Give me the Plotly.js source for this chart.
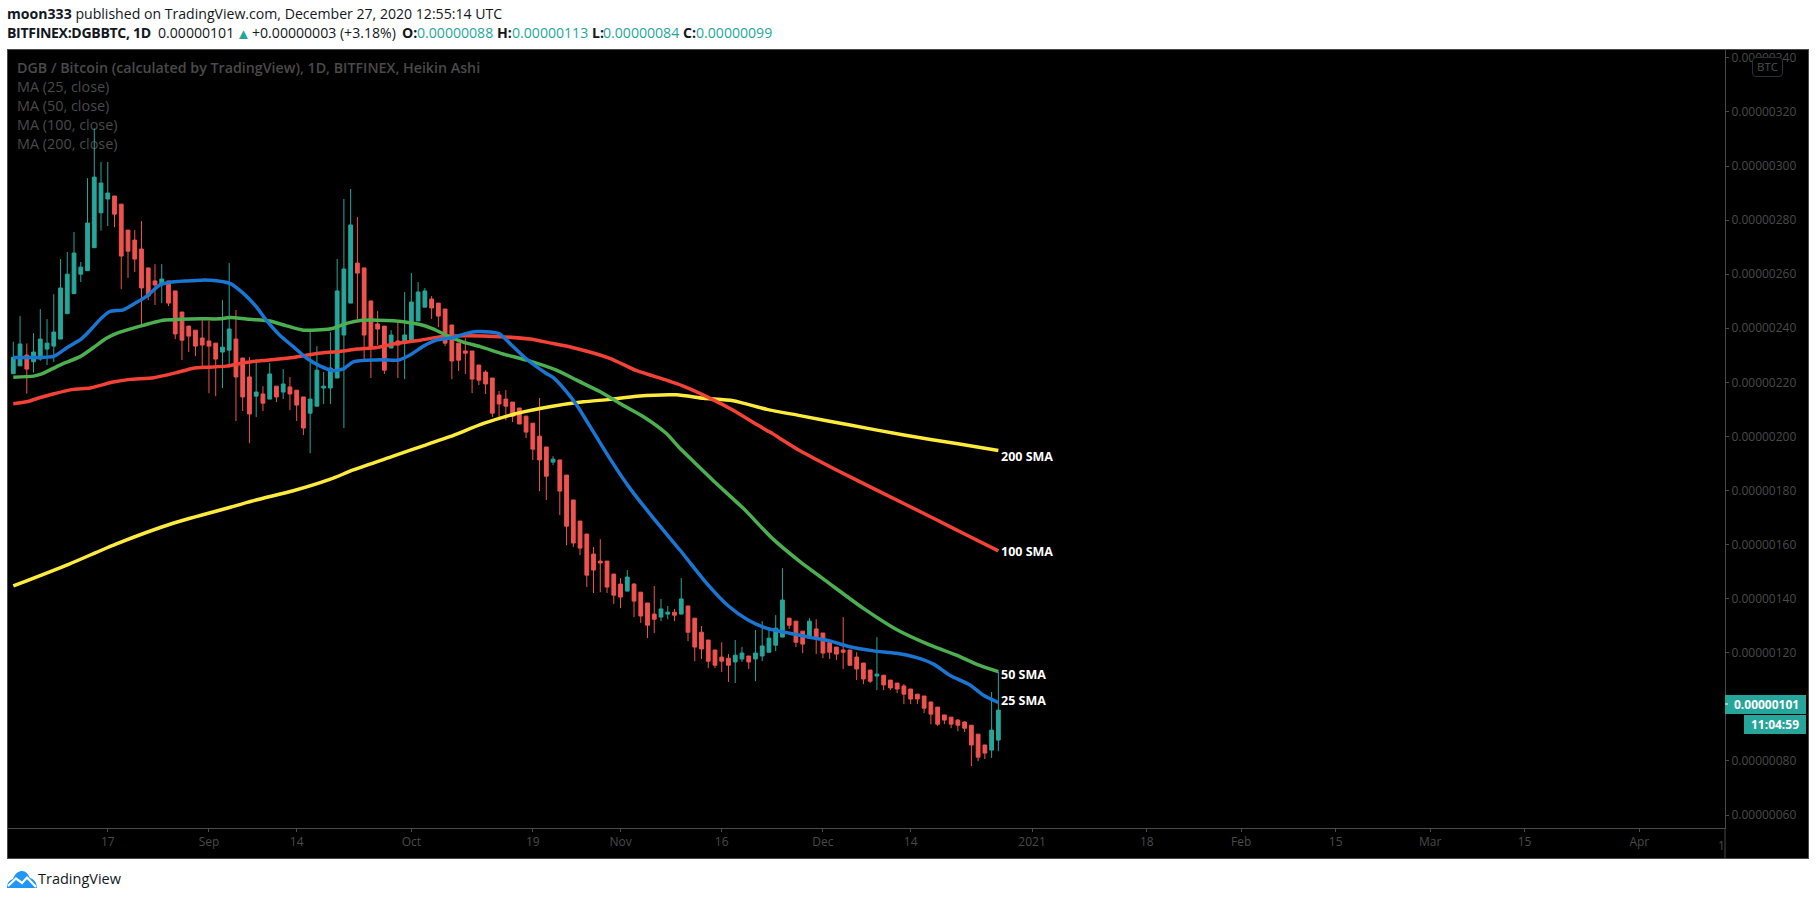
<!DOCTYPE html>
<html>
<head>
<meta charset="utf-8">
<script src="https://cdn.plot.ly/plotly-3.0.1.min.js"></script>
<style>
html,body{margin:0;padding:0;background:#fff;width:1816px;height:900px;overflow:hidden;font-family:"Open Sans",sans-serif;}
.t{position:absolute;white-space:nowrap;font-size:14.1px;line-height:18px;color:#131722;}
.b{font-weight:700;}
.g{color:#26a69a;}
#frame{position:absolute;left:7px;top:49px;width:1802px;height:810px;box-sizing:border-box;border:1px solid #4a4a4a;background:#000;}
#chart{position:absolute;left:0;top:0;width:1800px;height:808px;}
.lg{position:absolute;left:9px;color:#4a4a4a;font-size:14.4px;line-height:18px;white-space:nowrap;}
#btc{position:absolute;left:1744px;top:7px;width:31px;height:20px;box-sizing:border-box;border:1px solid #2a2e39;border-radius:4px;background:#000;color:#4f4f4f;font-size:11.5px;line-height:18px;text-align:center;}
</style>
</head>
<body>
<div class="t" style="left:7px;top:5px;"><span class="b">moon333</span> published on TradingView.com, December 27, 2020 12:55:14 UTC</div>
<div class="t b" style="left:7px;top:24px;letter-spacing:-0.35px;">BITFINEX:DGBBTC, 1D</div>
<div class="t" style="left:158px;top:24px;">0.00000101</div>
<div class="t g" style="left:236px;top:24px;font-size:15px;">▲</div>
<div class="t" style="left:252px;top:24px;">+0.00000003 (+3.18%)</div>
<div class="t b" style="left:402px;top:24px;">O:</div><div class="t g" style="left:417px;top:24px;">0.00000088</div>
<div class="t b" style="left:497px;top:24px;">H:</div><div class="t g" style="left:512px;top:24px;">0.00000113</div>
<div class="t b" style="left:592px;top:24px;">L:</div><div class="t g" style="left:603px;top:24px;">0.00000084</div>
<div class="t b" style="left:683px;top:24px;">C:</div><div class="t g" style="left:696px;top:24px;">0.00000099</div>

<div id="frame">
  <div class="lg" style="top:9px;font-weight:600;font-size:14.25px;">DGB / Bitcoin (calculated by TradingView), 1D, BITFINEX, Heikin Ashi</div>
  <div class="lg" style="top:28px;">MA (25, close)</div>
  <div class="lg" style="top:47px;">MA (50, close)</div>
  <div class="lg" style="top:66px;">MA (100, close)</div>
  <div class="lg" style="top:85px;">MA (200, close)</div>
  <div id="chart"></div>
  <div id="btc">BTC</div>
</div>

<svg style="position:absolute;left:7px;top:871px;" width="30" height="18" viewBox="0 0 30 18">
  <path d="M0 17 C0 11 3 9 6 8 C8 2 12 0 15 0 C19 0 21 3 23 7 C27 8 30 12 30 17 Z" fill="#2196f3"/>
  <polyline points="1,15 9,7.5 15,12 20,6.5 29,16" fill="none" stroke="#fff" stroke-width="2.2"/>
</svg>
<div class="t" style="left:38px;top:869px;font-size:14.5px;line-height:20px;">TradingView</div>

<script>
// Candle values in units of 0.00000001 BTC, one per day from 2020-08-03
var firstDay = Date.UTC(2020, 7, 3);
var opens = [223.2,226.1,230.1,227.6,228.6,232.3,233.4,236.0,245.4,252.8,
260.0,261.3,269.8,282.7,287.8,288.9,285.9,276.3,272.6,269.3,
262.3,257.5,256.3,257.5,253.8,246.0,240.8,239.3,236.4,235.3,
234.5,231.2,231.9,236.0,229.0,222.0,214.9,215.7,213.8,218.6,
216.4,218.3,217.1,214.6,208.6,211.2,217.9,217.9,221.6,237.5,
249.3,264.1,262.3,250.1,241.6,240.8,232.7,235.3,234.5,235.6,
242.7,247.8,250.8,249.3,247.1,241.2,234.5,231.6,231.6,226.4,
223.8,221.6,215.3,213.8,212.7,210.5,207.5,204.9,200.1,196.1,
190.5,191.3,185.7,176.5,168.7,163.9,156.5,153.9,153.9,149.1,
145.4,142.8,145.4,142.4,138.4,134.3,133.2,134.3,135.0,134.3,
137.3,132.8,127.6,124.7,121.0,118.4,118.0,116.6,117.7,118.8,
117.7,118.8,120.2,122.8,125.8,132.8,131.7,128.0,125.4,128.8,
127.3,123.9,122.1,121.0,121.0,118.4,116.2,113.6,111.4,111.7,
109.9,108.8,107.7,106.6,104.7,104.0,101.8,99.9,97.0,96.2,
95.1,94.4,93.2,89.9,85.9,84.0,87.7];
var closes = [229.2,234.2,224.9,231.2,236.0,234.5,238.6,254.9,260.0,267.8,
262.6,278.9,295.9,293.7,290.0,282.2,266.7,268.5,265.6,254.9,
251.9,256.0,258.2,249.3,237.9,235.6,237.1,233.4,233.8,233.4,
228.6,233.0,239.7,222.0,214.6,208.3,216.4,212.3,223.1,214.6,
219.4,215.7,211.6,203.1,213.8,224.5,218.6,225.3,253.8,261.9,
278.2,260.4,237.5,233.0,239.7,224.5,237.5,233.8,237.5,249.7,
253.4,253.8,247.5,244.5,234.5,227.9,228.2,230.8,221.2,220.8,
219.4,208.6,212.0,211.2,207.5,204.6,201.6,195.3,191.3,185.3,
191.6,179.8,166.8,160.6,158.7,148.7,150.6,153.2,144.3,141.3,
140.6,148.0,139.1,133.6,130.2,132.4,136.2,135.0,133.9,139.9,
127.6,122.1,121.4,116.9,115.4,116.9,115.4,119.1,119.9,116.6,
119.9,122.5,125.4,129.1,139.5,130.2,123.9,123.2,131.7,125.8,
119.9,120.2,119.5,120.2,115.4,114.0,110.3,109.5,112.1,108.1,
107.0,106.6,104.7,102.9,102.9,99.5,97.3,93.6,95.1,93.6,
93.2,92.1,85.9,81.4,82.9,91.4,98.8];
var highs = [235.0,244.5,234.4,238.2,247.1,243.4,252.6,265.6,268.2,275.6,
264.5,295.5,314.0,301.5,301.5,288.9,285.9,276.3,276.3,279.6,
262.3,263.7,263.7,257.5,253.8,246.0,240.8,239.3,243.0,242.7,
234.5,250.4,264.1,246.7,229.0,229.3,228.6,218.6,227.1,218.6,
224.9,222.0,217.1,214.6,239.0,233.4,223.8,238.6,265.6,287.8,
291.5,281.1,262.3,250.1,246.4,240.8,239.3,243.0,253.4,260.4,
257.1,254.9,251.9,249.3,247.1,241.2,234.5,236.3,231.6,226.4,
224.5,221.6,216.8,217.1,212.7,210.5,207.5,204.9,214.2,196.1,
192.7,191.3,185.7,176.5,168.7,163.9,159.1,162.0,153.9,149.1,
147.6,150.6,145.8,142.4,138.4,144.7,139.9,137.3,136.2,147.6,
137.3,132.8,129.9,124.7,121.0,123.9,119.5,124.7,122.1,118.8,
128.4,131.7,129.5,133.9,151.3,132.8,131.7,128.0,132.8,132.4,
127.3,123.9,122.1,133.2,121.0,120.2,116.2,113.6,125.8,111.7,
109.9,108.8,108.4,106.6,104.7,104.0,101.8,99.9,97.0,96.2,
95.5,94.7,93.2,89.9,85.9,105.5,112.9];
var lows = [223.2,226.1,215.8,223.6,228.0,226.4,227.5,236.0,245.4,252.8,
257.1,261.3,269.8,276.1,277.8,277.4,254.5,258.6,260.8,240.4,
250.4,248.6,249.3,248.2,236.0,228.2,231.2,229.7,224.9,216.0,
214.9,217.9,225.6,205.7,209.4,197.5,207.2,209.4,213.8,212.7,
213.8,209.7,205.7,200.5,193.8,211.2,212.0,212.0,221.6,203.1,
249.3,243.4,227.9,221.6,233.8,223.1,232.7,221.6,221.2,235.6,
242.7,247.8,243.4,240.4,233.4,221.2,224.2,223.1,216.0,219.0,
215.7,207.2,207.2,206.0,205.3,204.6,199.4,191.3,179.8,176.5,
189.4,170.9,159.8,159.1,156.1,144.3,142.1,142.4,142.1,138.0,
136.5,142.8,133.2,131.0,125.4,127.3,131.7,132.4,131.7,134.3,
124.3,116.9,117.7,114.3,114.3,112.9,109.2,108.8,116.6,114.0,
109.5,116.9,120.2,120.6,125.8,128.8,122.1,119.9,125.4,119.5,
118.0,117.7,117.3,114.0,115.1,109.9,108.4,108.8,106.2,106.2,
106.2,105.1,101.0,101.0,101.0,97.7,93.6,92.9,93.6,92.1,
91.0,90.7,78.1,79.9,80.7,81.1,83.6];

// Moving averages: day offsets from the first candle and the level read at each
var ma25Days = [0,3,6,8,10,11.4,13,14.3,16.3,17.8,19.8,21.7,23.2,25.7,27.9,30.1,32.1,34.1,36,37.5,39.5,41.5,43.5,45.5,47.4,48.9,50.4,52.4,54.8,57,58.8,60.8,62.7,65.2,67.2,68.7,70.7,72.1,73.6,75.8,79,80,81.8,83.5,85.5,88.4,91.4,94.9,98.8,102.8,106,108.9,111.7,115.1,118.1,121,124,127.5,130.9,133.9,136.4,138.8,141.8,143.8,146];
var ma25 = [229.2,229.2,229.6,232.9,235.9,239.3,243.6,246.2,246.8,248.9,251.9,256.0,257.0,257.5,257.8,257.6,256.6,252.9,248.0,243.0,237.4,233.2,228.9,226.0,224.3,225.0,227.6,228.2,228.4,228.2,230.1,233.4,235.6,236.6,238.1,238.8,238.6,237.9,234.4,229.2,223.3,221.8,217.1,211.6,203.6,191.9,180.8,169.7,158.0,145.6,137.3,132.1,129.0,127.2,125.7,124.4,122.2,120.7,119.8,118.2,115.8,111.7,108.1,104.3,101.6];
var ma50Days = [0,3,4.2,6.9,9.9,11.9,13.8,15.3,18.8,22.2,24.7,27.7,30.6,32.1,35.1,38,40.5,43,46.9,49.4,51.4,53.9,56.3,60.3,62.3,64.2,66.7,69.2,72.6,76.1,80.5,83.5,87,89.9,93.4,96.8,98.8,101,104.2,108.2,112.5,116.6,120.6,126,130.9,135.9,139.8,142.8,146];
var ma50 = [221.9,222.3,223.1,226.4,229.5,232.9,236.3,238.1,240.8,243.0,243.3,243.5,243.5,244.0,243.3,242.7,240.9,239.3,239.7,241.8,242.9,243.0,242.8,241.4,239.7,237.4,234.9,233.2,230.5,228.2,224.5,220.8,216.5,212.2,207.3,201.1,195.6,190.3,182.6,173.4,162.3,153.7,146.3,136.4,128.6,122.8,119.1,115.7,113.0];
var ma100Days = [0,2,4,5.9,8.9,11.4,14.8,17.3,20.8,24.2,26.7,28.7,31.6,34.6,37.5,41.5,45,48.4,50.9,53.9,56.8,60.3,63.7,67.2,72.1,76.6,79.5,83,88.4,92.4,96.8,99.3,103.3,106.7,110.2,112.2,116.6,122,128.5,136.9,141,146];
var ma100 = [212.1,212.8,214.4,215.7,217.4,217.9,220.1,221.1,221.7,223.6,225.2,225.6,226.0,227.4,228.2,229.2,230.7,231.4,232.3,232.9,234.4,235.6,237.0,237.2,236.9,236.0,234.6,232.8,228.9,224.3,220.8,218.6,214.1,209.7,204.4,201.5,194.7,187.6,179.5,169.1,163.9,157.7];
var ma200Days = [0,8.3,15.2,23.8,32.3,36,41.5,46.9,50.4,56.3,61.3,64.7,69.7,74.6,79.5,84.5,88.4,92.4,98.3,102.3,106.7,111.7,116.6,124,132,140,146];
var ma200 = [144.7,152.8,160.2,168.0,173.9,176.5,179.9,184.1,187.6,192.7,197.0,199.9,204.8,208.5,211.0,212.8,213.7,214.9,215.4,214.1,213.2,210.0,207.7,204.2,200.5,197.3,194.8];

var priceTicks = [60,80,100,120,140,160,180,200,220,240,260,280,300,320,340];
var dateTicks = ['2020-08-17','2020-09-01','2020-09-14','2020-10-01','2020-10-19','2020-11-01','2020-11-16','2020-12-01','2020-12-14','2021-01-01','2021-01-18','2021-02-01','2021-02-15','2021-03-01','2021-03-15','2021-04-01'];
var dateLabels = ['17','Sep','14','Oct','19','Nov','16','Dec','14','2021','18','Feb','15','Mar','15','Apr'];
var smaNames = ['200 SMA','100 SMA','50 SMA','25 SMA'];
var smaLabelLevels = [192.4,157.6,111.8,102.5];
var lastPrice = 101;
var lastPriceText = '0.00000101';
var countdownText = '11:04:59';

var unit = 1e-8;
function price(a){ return a.map(function(v){ return v*unit; }); }
function dayToDate(d){ return new Date(firstDay + d*864e5).toISOString().slice(0,23); }
var candleDays = opens.map(function(_,i){ return i; });

function maTrace(days, vals, color){
  return {type:'scatter', mode:'lines', x:days.map(dayToDate), y:price(vals),
    line:{color:color, width:3.5, shape:'spline', smoothing:0.6}, hoverinfo:'skip', showlegend:false};
}

var data = [
  {type:'candlestick', x:candleDays.map(dayToDate), open:price(opens), high:price(highs), low:price(lows), close:price(closes),
   increasing:{line:{color:'#26a69a',width:1}, fillcolor:'#26a69a'},
   decreasing:{line:{color:'#ef5350',width:1}, fillcolor:'#ef5350'},
   whiskerwidth:0, hoverinfo:'skip', showlegend:false},
  maTrace(ma200Days, ma200, '#ffeb3b'),
  maTrace(ma100Days, ma100, '#f44336'),
  maTrace(ma50Days, ma50, '#4caf50'),
  maTrace(ma25Days, ma25, '#1976d2')
];

// plot pixel helpers (inside the frame: plot spans x 8..1725, y 50..828 of the page)
function px(x){ return (x-8)/1717; }
function py(y){ return (828-y)/778; }

var annotations = smaNames.map(function(n,i){
  return {xref:'x', yref:'y', x:dayToDate(146), y:smaLabelLevels[i]*unit, text:'<b>'+n+'</b>', showarrow:false,
    xanchor:'left', yanchor:'middle', xshift:1, font:{family:'Open Sans, sans-serif', size:12.5, color:'#fff'}};
});
annotations.push({xref:'paper', yref:'y', x:px(1766), y:lastPrice*unit, text:'<b>'+lastPriceText+'</b>', showarrow:false,
  xanchor:'center', yanchor:'middle', font:{family:'Open Sans, sans-serif', size:12, color:'#fff'}});
annotations.push({xref:'paper', yref:'paper', x:px(1775), y:py(724.5), text:'<b>'+countdownText+'</b>', showarrow:false,
  xanchor:'center', yanchor:'middle', font:{family:'Open Sans, sans-serif', size:12, color:'#fff'}});
annotations.push({xref:'paper', yref:'paper', x:px(1727), y:py(845), text:'1', showarrow:false,
  xanchor:'right', yanchor:'middle', font:{family:'Open Sans, sans-serif', size:12, color:'#4a4a4a'}});

var shapes = [
  {type:'line', xref:'paper', yref:'paper', x0:1, x1:1, y0:py(828), y1:py(858), line:{color:'#4a4a4a', width:1}, layer:'above'},
  {type:'rect', xref:'paper', yref:'paper', x0:px(1725), x1:px(1806), y0:py(695), y1:py(714), fillcolor:'#26a69a', line:{width:0}, layer:'above'},
  {type:'rect', xref:'paper', yref:'paper', x0:px(1744), x1:px(1806), y0:py(715), y1:py(734), fillcolor:'#26a69a', line:{width:0}, layer:'above'},
  {type:'line', xref:'paper', yref:'paper', x0:px(1725), x1:px(1728), y0:py(704), y1:py(704), line:{color:'#fff', width:1}, layer:'above'}
];

var layout = {
  width:1800, height:808,
  margin:{l:0, r:83, t:0, b:30, pad:0},
  paper_bgcolor:'rgba(0,0,0,0)', plot_bgcolor:'rgba(0,0,0,0)',
  showlegend:false, hovermode:false, dragmode:false,
  font:{family:'Open Sans, sans-serif', color:'#4a4a4a', size:12},
  xaxis:{type:'date', range:[dayToDate(-0.786), dayToDate(253.7)], rangeslider:{visible:false},
    tickmode:'array', tickvals:dateTicks, ticktext:dateLabels, tickangle:0,
    ticks:'outside', ticklen:3, tickwidth:1, tickcolor:'#4a4a4a',
    showgrid:false, zeroline:false, showline:true, linecolor:'#4a4a4a', linewidth:1,
    tickfont:{family:'Open Sans, sans-serif', size:12, color:'#4a4a4a'}, fixedrange:true},
  yaxis:{side:'right', range:[55.2*unit, 342.9*unit], tickmode:'array', tickvals:price(priceTicks), tickformat:'.8f',
    ticks:'outside', ticklen:3, tickwidth:1, tickcolor:'#4a4a4a', ticklabeloverflow:'allow',
    showgrid:false, zeroline:false, showline:true, linecolor:'#4a4a4a', linewidth:1,
    tickfont:{family:'Open Sans, sans-serif', size:12, color:'#4a4a4a'}, fixedrange:true},
  boxgap:0.3, boxgroupgap:0.2,
  annotations:annotations, shapes:shapes
};
Plotly.newPlot('chart', data, layout, {displayModeBar:false, staticPlot:true});
</script>
</body>
</html>
